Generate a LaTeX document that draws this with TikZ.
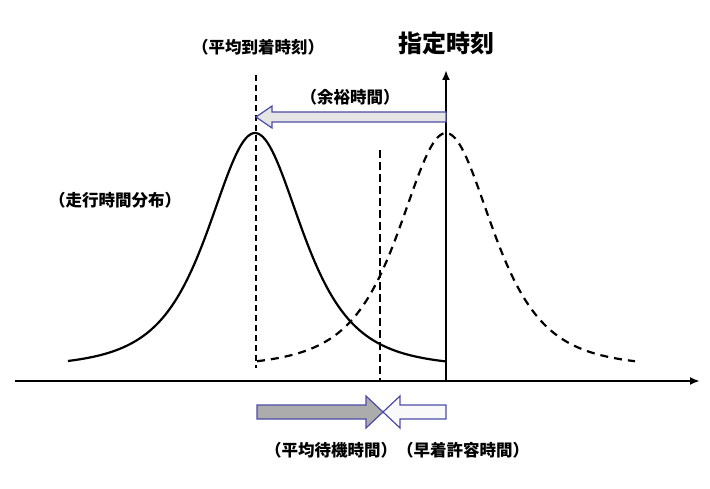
\documentclass[tikz,border=0pt]{standalone}
\usepackage{fontspec}
\newfontfamily\cjk{Noto Sans CJK JP}
\usetikzlibrary{arrows.meta}
\begin{document}
\begin{tikzpicture}[x=1pt,y=-1pt,
 lbl/.style={font=\cjk\bfseries\fontsize{16.5}{18}\selectfont,inner sep=0pt},
 blk/.style={draw=blue!50!black!70,line width=1.2pt,line join=miter}]
\useasboundingbox (0,0) rectangle (710,489);
% axes
\coordinate (o) at (15,381); \coordinate (xe) at (700,381);
\coordinate (vb) at (446,381); \coordinate (vt) at (446,70);
\draw[line width=2pt,-{Latex[length=10pt,width=8pt]}] (o) -- (xe);
\draw[line width=2pt,-{Latex[length=10pt,width=8pt]}] (vb) -- (vt);
% curves
\draw[line width=2.2pt] plot[domain=68:446,samples=160] (\x,{368-235/(1+((\x-255)/85.5)^2)^2});
\draw[line width=2.2pt,dash pattern=on 8pt off 6pt] plot[domain=257:635,samples=160] (\x,{368-235/(1+((\x-446)/85.5)^2)^2});
% vertical dashed lines
\coordinate (m1) at (256,75); \coordinate (m2) at (256,368);
\draw[line width=1.2pt,dash pattern=on 6pt off 4pt] (m1) -- (m2);
\coordinate (d1) at (380,150); \coordinate (d2) at (380,381);
\draw[line width=2.4pt,dash pattern=on 8pt off 4pt] (d1) -- (d2);
% slack arrow
\draw[blk,fill=gray!20] (446,112)--(272,112)--(272,106)--(256,117)--(272,128)--(272,122)--(446,122)--cycle;
% bottom arrows
\draw[blk,fill=gray!65] (257,405)--(366,405)--(366,396)--(383,412)--(366,428)--(366,419)--(257,419)--cycle;
\draw[blk,fill=gray!5] (446,405)--(400,405)--(400,396)--(383,412)--(400,428)--(400,419)--(446,419)--cycle;
% labels
\node[lbl] (t1) at (258,47) {（平均到着時刻）};
\node[lbl,font=\cjk\bfseries\fontsize{24}{26}\selectfont] (t2) at (446,43) {指定時刻};
\node[lbl] (t3) at (350,97) {（余裕時間）};
\node[lbl] (t4) at (115,200) {（走行時間分布）};
\node[lbl] (t5) at (397,450) {（平均待機時間）（早着許容時間）};
\end{tikzpicture}
\end{document}
